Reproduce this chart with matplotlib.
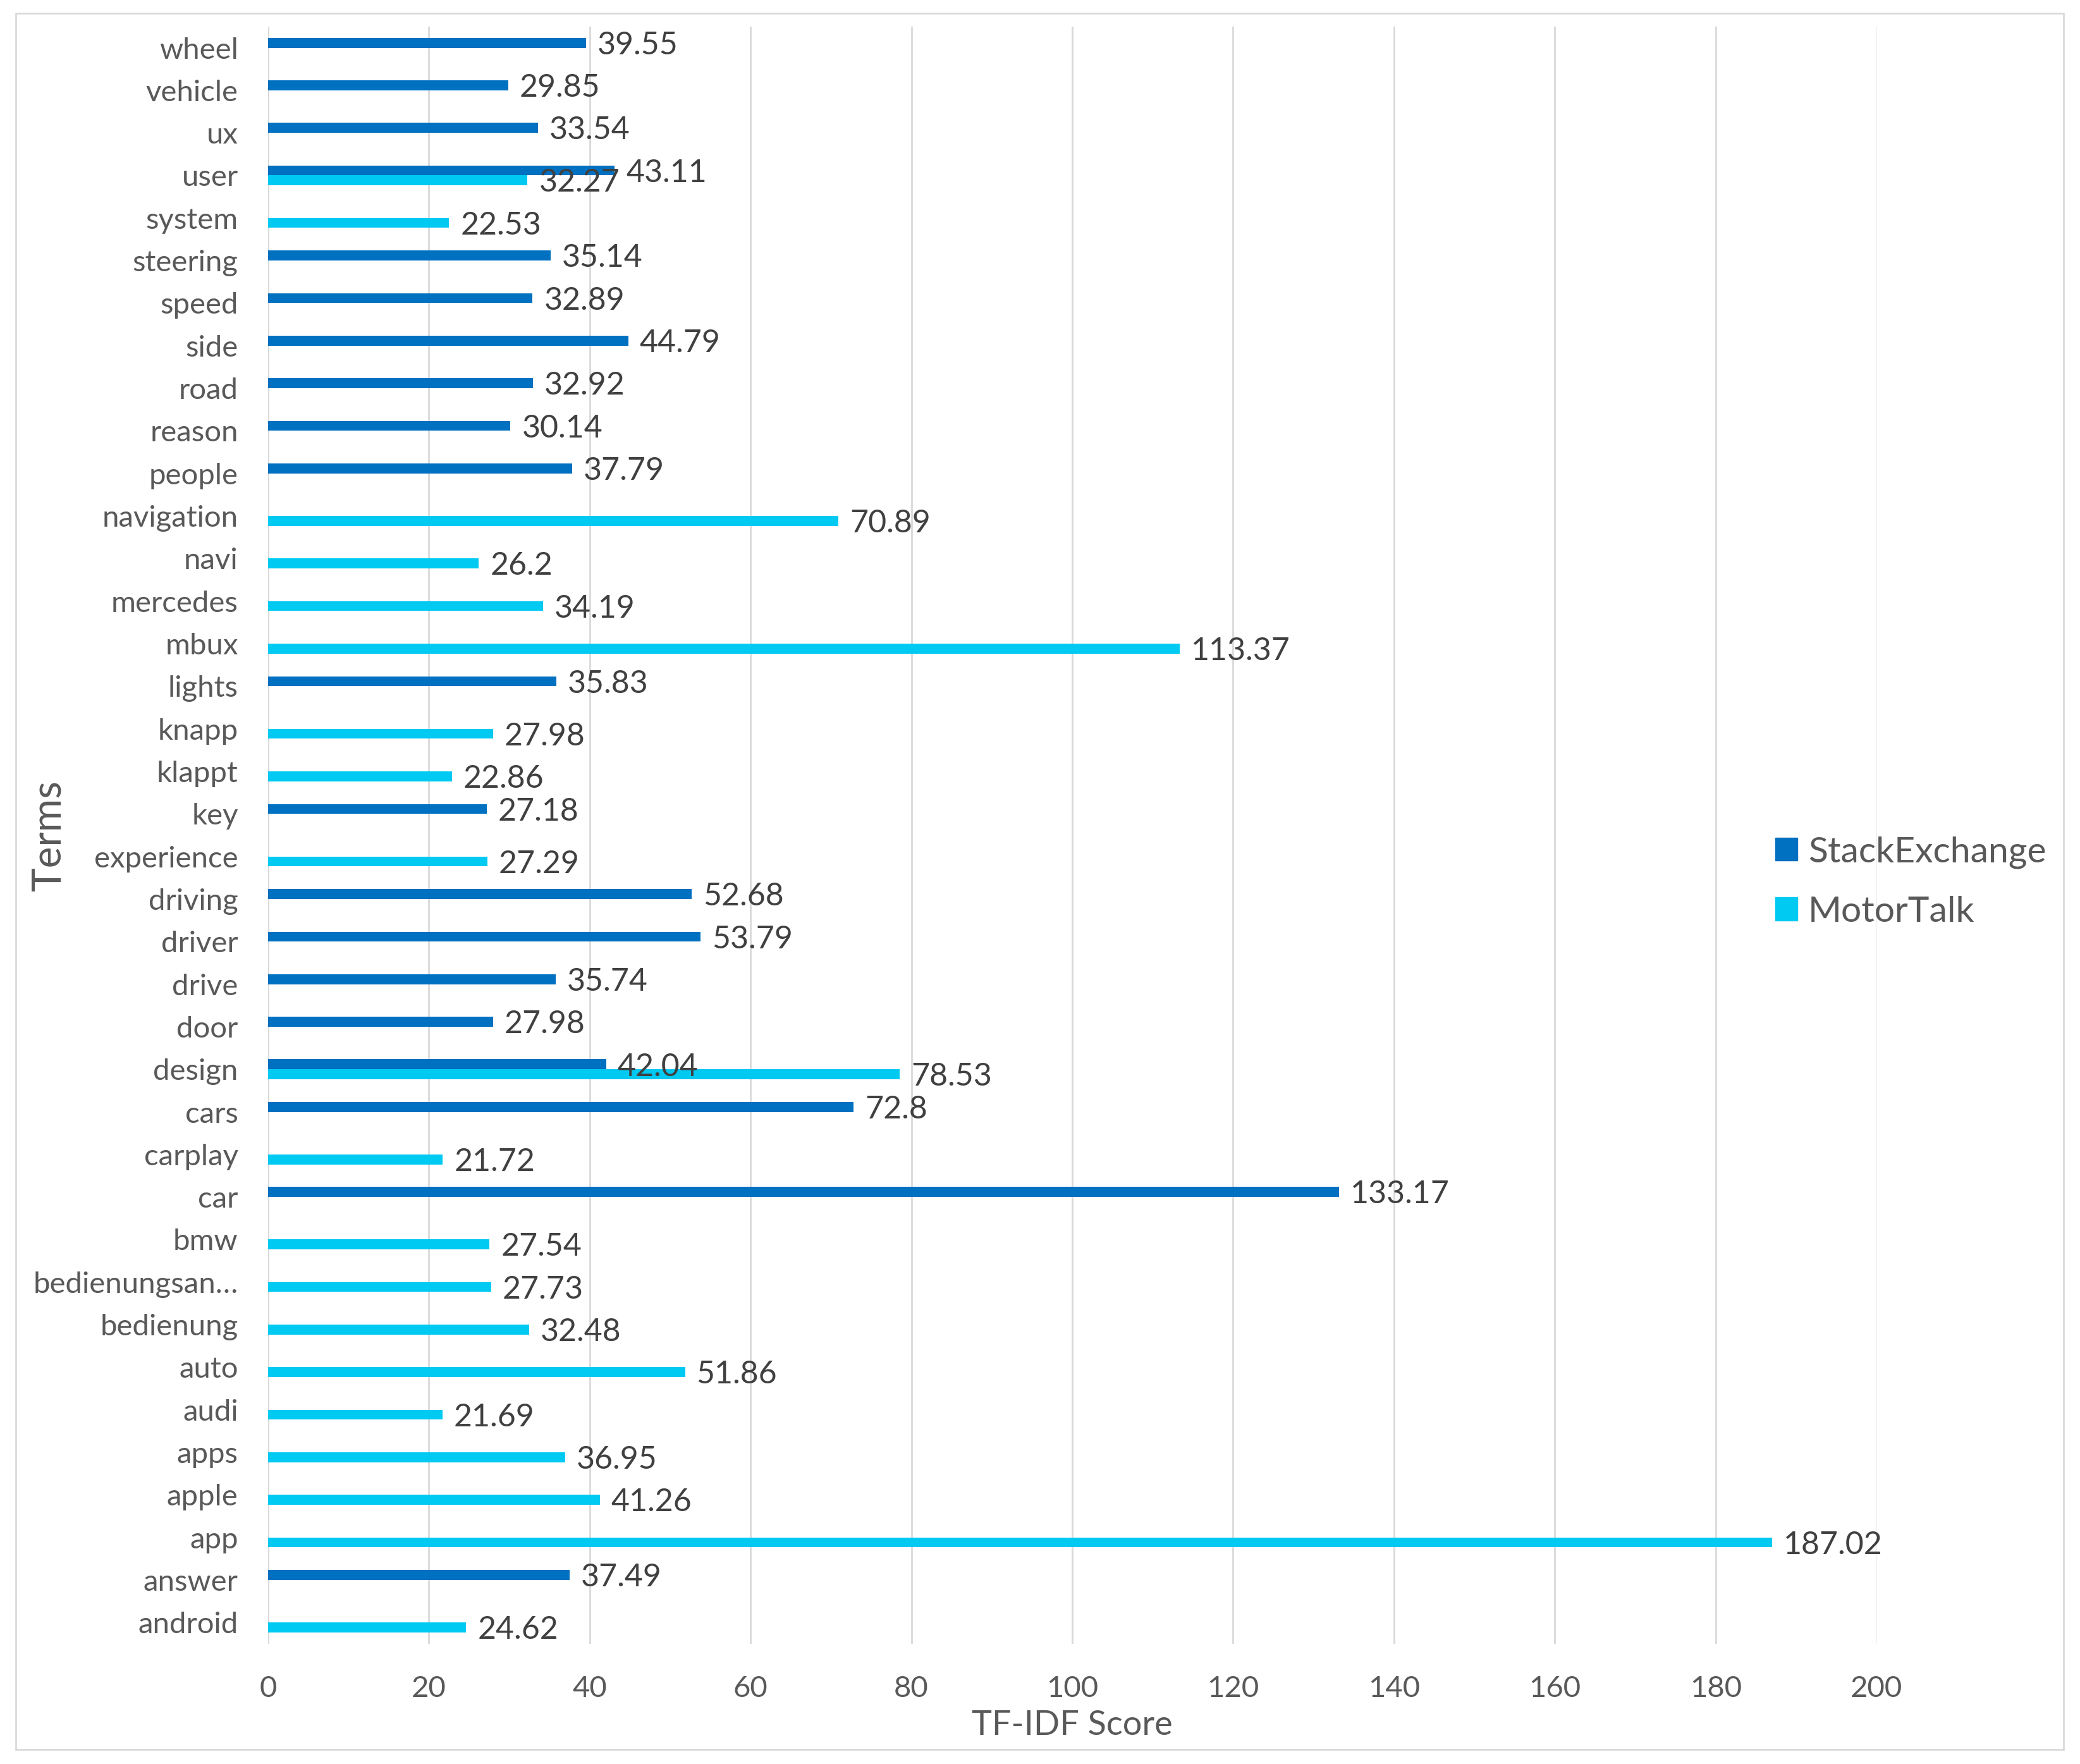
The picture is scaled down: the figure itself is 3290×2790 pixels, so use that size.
import numpy as np
import matplotlib
matplotlib.use("Agg")
from matplotlib import pyplot as plt
from matplotlib.patches import Rectangle

plt.rcParams['font.family'] = ['Lato', 'DejaVu Sans']

# categories from bottom to top
terms = ['android', 'answer', 'app', 'apple', 'apps', 'audi', 'auto', 'bedienung',
         'bedienungsan…', 'bmw', 'car', 'carplay', 'cars', 'design', 'door', 'drive',
         'driver', 'driving', 'experience', 'key', 'klappt', 'knapp', 'lights', 'mbux',
         'mercedes', 'navi', 'navigation', 'people', 'reason', 'road', 'side', 'speed',
         'steering', 'system', 'user', 'ux', 'vehicle', 'wheel']

stack = {'answer': 37.49, 'car': 133.17, 'cars': 72.8, 'design': 42.04, 'door': 27.98,
         'drive': 35.74, 'driver': 53.79, 'driving': 52.68, 'key': 27.18, 'lights': 35.83,
         'people': 37.79, 'reason': 30.14, 'road': 32.92, 'side': 44.79, 'speed': 32.89,
         'steering': 35.14, 'user': 43.11, 'ux': 33.54, 'vehicle': 29.85, 'wheel': 39.55}

motor = {'android': 24.62, 'app': 187.02, 'apple': 41.26, 'apps': 36.95, 'audi': 21.69,
         'auto': 51.86, 'bedienung': 32.48, 'bedienungsan…': 27.73, 'bmw': 27.54,
         'carplay': 21.72, 'design': 78.53, 'experience': 27.29, 'klappt': 22.86,
         'knapp': 27.98, 'mbux': 113.37, 'mercedes': 34.19, 'navi': 26.2,
         'navigation': 70.89, 'system': 22.53, 'user': 32.27}

c_stack = '#0070C0'
c_motor = '#00C9F2'

fig = plt.figure(figsize=(32.91, 27.90), dpi=100)
ax = fig.add_axes([0.1288, 0.0681, 0.9019 - 0.1288, 0.985 - 0.0681])

h = 0.233
y = np.arange(len(terms))
for i, t in enumerate(terms):
    if t in stack:
        ax.barh(i + h / 2, stack[t], height=h, color=c_stack)
        ax.annotate(f'{stack[t]:g}', (stack[t], i + h / 2), xytext=(13, -3),
                    textcoords='offset points', va='center', ha='left',
                    fontsize=36, color='#404040')
    if t in motor:
        ax.barh(i - h / 2, motor[t], height=h, color=c_motor)
        ax.annotate(f'{motor[t]:g}', (motor[t], i - h / 2), xytext=(13, -3),
                    textcoords='offset points', va='center', ha='left',
                    fontsize=36, color='#404040')

ax.set_xlim(0, 200)
ax.set_ylim(-0.5, len(terms) - 0.5)
ax.set_yticks(y)
ax.set_yticklabels(terms)
ax.set_xticks(np.arange(0, 201, 20))
ax.tick_params(axis='y', length=0, pad=34, labelsize=34, labelcolor='#595959')
ax.tick_params(axis='x', length=0, pad=36, labelsize=34, labelcolor='#595959')
ax.grid(axis='x', color='#D9D9D9', linewidth=2)
ax.set_axisbelow(True)
for s in ax.spines.values():
    s.set_visible(False)

fig.text(78 / 3291, 1 - 1322 / 2790, 'Terms', rotation=90, ha='center', va='center',
         fontsize=46, color='#595959')
fig.text(1696 / 3291, 1 - 2729 / 2790, 'TF-IDF Score', ha='center', va='center',
         fontsize=39, color='#595959')

handles = [Rectangle((0, 0), 1, 1, color=c_stack), Rectangle((0, 0), 1, 1, color=c_motor)]
fig.legend(handles, ['StackExchange', 'MotorTalk'], loc='center left',
           bbox_to_anchor=(2780 / 3291, 1 - 1395 / 2790), frameon=False, borderpad=0,
           fontsize=41, labelcolor='#595959', handlelength=0.6, handleheight=0.6,
           handletextpad=0.3, labelspacing=0.75)

fig.patches.append(Rectangle((25 / 3291, 1 - 2767 / 2790), (3264 - 25) / 3291,
                             (2767 - 21) / 2790, transform=fig.transFigure,
                             fill=False, edgecolor='#D9D9D9', linewidth=2))

fig.savefig('out.png', dpi=100, facecolor='white')
